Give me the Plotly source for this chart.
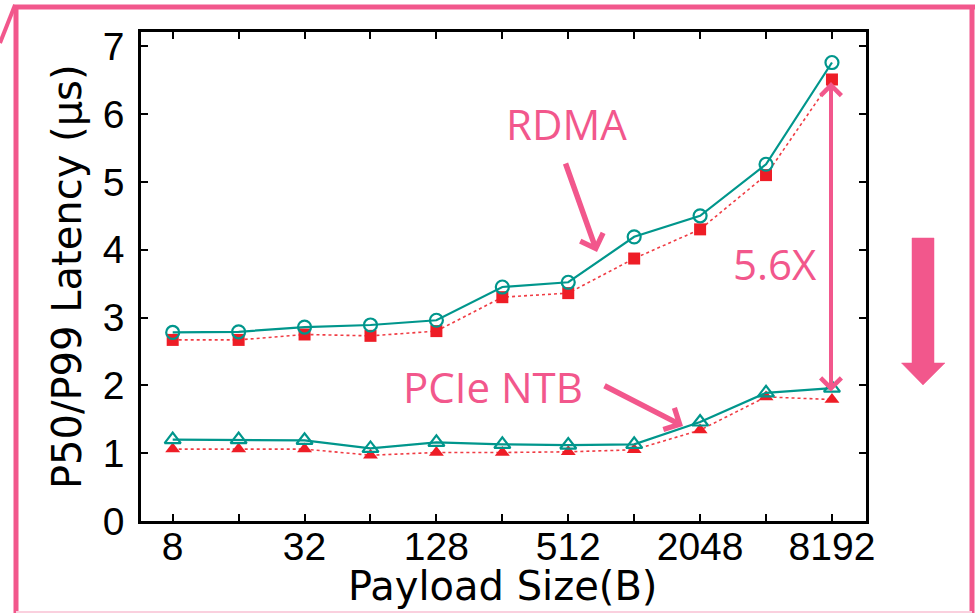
import numpy as np
import plotly.graph_objects as go

# Payload sizes (bytes) and axis labels
sizes = [8, 16, 32, 64, 128, 256, 512, 1024, 2048, 4096, 8192]
tick_labels = ["8", "", "32", "", "128", "", "512", "", "2048", "", "8192"]
y_ticks = [0, 1, 2, 3, 4, 5, 6, 7]

# Latency in microseconds
rdma_p99 = [2.78, 2.79, 2.86, 2.89, 2.96, 3.45, 3.52, 4.19, 4.50, 5.26, 6.76]
rdma_p50 = [2.67, 2.67, 2.75, 2.73, 2.80, 3.30, 3.36, 3.87, 4.30, 5.10, 6.51]
ntb_p99 = [1.20, 1.20, 1.19, 1.07, 1.16, 1.13, 1.12, 1.13, 1.46, 1.89, 1.96]
ntb_p50 = [1.06, 1.06, 1.06, 0.97, 1.01, 1.01, 1.02, 1.05, 1.34, 1.83, 1.79]

TEAL = "#00968C"
RED = "#EE1D26"
RED_LINE = "#F03C44"
PINK = "#F2578C"
GRID = "#d0d0d0"

W, H = 977, 613
L, R, T, B = 141, 866, 32, 521
Y_MAX = 7.21


def px(x):
    return (x - L) / (R - L)


def py(y):
    return (B - y) / (B - T)


fig = go.Figure()

# P50 series (red, dotted)
fig.add_trace(go.Scatter(
    x=sizes, y=rdma_p50, mode="lines+markers",
    line=dict(color=RED_LINE, width=1.6, dash="dot"),
    marker=dict(symbol="square", size=12, color=RED),
    name="RDMA P50", showlegend=False))
fig.add_trace(go.Scatter(
    x=sizes, y=ntb_p50, mode="lines+markers",
    line=dict(color=RED_LINE, width=1.6, dash="dot"),
    marker=dict(symbol="triangle-up", size=13, color=RED),
    name="PCIe NTB P50", showlegend=False))

# P99 series (teal, solid)
fig.add_trace(go.Scatter(
    x=sizes, y=rdma_p99, mode="lines+markers",
    line=dict(color=TEAL, width=2.2),
    marker=dict(symbol="circle-open", size=13, color=TEAL, line=dict(width=2.2)),
    name="RDMA P99", showlegend=False))
fig.add_trace(go.Scatter(
    x=sizes, y=ntb_p99, mode="lines+markers",
    line=dict(color=TEAL, width=2.2),
    marker=dict(symbol="triangle-up-open", size=14, color=TEAL, line=dict(width=2.2)),
    name="PCIe NTB P99", showlegend=False))

axis_common = dict(
    ticks="inside", ticklen=7, tickwidth=2, tickcolor="black",
    showline=True, linewidth=2.5, linecolor="black", mirror="allticks",
    showgrid=False, zeroline=False,
    tickfont=dict(family="Liberation Sans, Arial, sans-serif", size=39, color="black"),
)

lo = np.log10(8) - (172.7 - L) / 219.0
hi = lo + (R - L) / 219.0

fig.update_xaxes(type="log", range=[lo, hi], tickvals=sizes, ticktext=tick_labels,
                 ticklabelstandoff=-11, **axis_common)
fig.update_yaxes(range=[0, Y_MAX], tickvals=y_ticks, ticklabelstandoff=6, **axis_common)

shapes = []

# dotted grid, left open where the (empty) key box sits in the upper-left
key_x = lo + (621 - L) / 219.0     # log10 position of the key box's right edge
key_y = (B - 233) / ((B - T) / Y_MAX)  # data position of the key box's bottom edge
grid_line = dict(color=GRID, width=1, dash="dot")
for s in sizes:
    top = Y_MAX if np.log10(s) > key_x else key_y
    shapes.append(dict(type="line", xref="x", yref="y",
                       x0=np.log10(s), x1=np.log10(s), y0=0, y1=top,
                       line=grid_line, layer="below"))
for v in y_ticks[1:]:
    left = key_x if v > key_y else lo
    shapes.append(dict(type="line", xref="x", yref="y",
                       x0=left, x1=hi, y0=v, y1=v,
                       line=grid_line, layer="below"))

# callout frame
frame = [((13, 7), (975, 7), 5), ((16, 5), (16, 613), 5),
         ((972, 7), (972, 613), 5), ((0, 43), (15, 5), 4)]
for (x0, y0), (x1, y1), w in frame:
    shapes.append(dict(type="line", xref="paper", yref="paper",
                       x0=px(x0), y0=py(y0), x1=px(x1), y1=py(y1),
                       line=dict(color=PINK, width=w), layer="above"))
shapes.append(dict(type="line", xref="paper", yref="paper",
                   x0=px(16), y0=py(612), x1=px(972), y1=py(612),
                   line=dict(color="#FAD0DE", width=2), layer="above"))

# big block arrow pointing down
pts = [(912, 238), (934, 238), (934, 363), (945, 363), (923, 385),
       (901.5, 363), (912, 363)]
path = "M " + " L ".join(f"{px(a):.5f},{py(b):.5f}" for a, b in pts) + " Z"
shapes.append(dict(type="path", xref="paper", yref="paper", path=path,
                   fillcolor=PINK, line=dict(color=PINK, width=0.5), layer="above"))

annotations = []
label_font = dict(family="Open Sans, Noto Sans, sans-serif", size=42, color=PINK)
for text, x, y in [("RDMA", 566, 123), ("PCIe NTB", 493, 386), ("5.6X", 775, 263)]:
    annotations.append(dict(text=text, xref="paper", yref="paper",
                            x=px(x), y=py(y), xanchor="center", yanchor="middle",
                            showarrow=False, font=label_font))

# pointer arrows
for (hx, hy), (tx, ty), w, s in [((597, 252), (565, 162), 5.5, 0.85),
                                 ((683, 426), (603, 385), 5.5, 0.85)]:
    annotations.append(dict(text="", xref="paper", yref="paper",
                            x=px(hx), y=py(hy), ax=tx - hx, ay=ty - hy,
                            showarrow=True, arrowhead=4, arrowwidth=w, arrowsize=s,
                            arrowcolor=PINK))
# ratio arrow between the two 8192 B points
annotations.append(dict(text="", xref="paper", yref="paper",
                        x=px(831), y=py(82), ax=0, ay=311,
                        showarrow=True, arrowside="end+start",
                        arrowhead=4, startarrowhead=4, arrowwidth=4,
                        arrowsize=1.0, startarrowsize=1.0, arrowcolor=PINK))

# axis titles
title_font = dict(family="DejaVu Sans, Verdana, sans-serif", size=40, color="black")
annotations.append(dict(text="Payload Size(B)", xref="paper", yref="paper",
                        x=px(502), y=py(586), xanchor="center", yanchor="middle",
                        showarrow=False, font=title_font))
annotations.append(dict(text="P50/P99 Latency (\u03bcs)", xref="paper", yref="paper",
                        x=px(67), y=py(277), xanchor="center", yanchor="middle",
                        textangle=-90, showarrow=False, font=title_font))

fig.update_layout(
    width=W, height=H,
    margin=dict(l=L, r=W - R, t=T, b=H - B),
    paper_bgcolor="white", plot_bgcolor="white",
    shapes=shapes, annotations=annotations,
    showlegend=False,
)

fig.write_html("out.html")
